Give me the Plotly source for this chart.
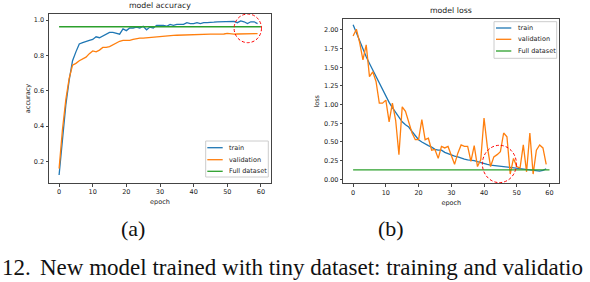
import plotly.graph_objects as go

W, H = 590, 282

epochs = list(range(60))
acc_train = [0.124, 0.33, 0.52, 0.66, 0.77, 0.82, 0.865, 0.872, 0.88, 0.885,
             0.89, 0.905, 0.90, 0.91, 0.92, 0.93, 0.93, 0.925, 0.92, 0.95,
             0.94, 0.955, 0.955, 0.96, 0.955, 0.965, 0.945, 0.96, 0.955, 0.97,
             0.97, 0.97, 0.965, 0.975, 0.97, 0.975, 0.975, 0.975, 0.985, 0.98,
             0.98, 0.985, 0.98, 0.985, 0.985, 0.985, 0.988, 0.99, 0.99, 0.988,
             0.99, 0.99, 0.992, 0.985, 0.995, 0.99, 0.98, 0.99, 0.99, 0.98]
acc_val = [0.16, 0.38, 0.55, 0.67, 0.745, 0.755, 0.77, 0.78, 0.79, 0.81,
           0.825, 0.82, 0.83, 0.845, 0.845, 0.85, 0.86, 0.87, 0.88, 0.885,
           0.885, 0.885, 0.89, 0.895, 0.898, 0.898, 0.90, 0.90, 0.902, 0.903,
           0.905, 0.907, 0.91, 0.912, 0.913, 0.914, 0.915, 0.916, 0.917, 0.917,
           0.918, 0.919, 0.92, 0.92, 0.92, 0.92, 0.92, 0.92, 0.921, 0.921,
           0.925, 0.922, 0.92, 0.921, 0.922, 0.922, 0.922, 0.922, 0.922, 0.923]
loss_train = [2.07, 1.96, 1.85, 1.74, 1.64, 1.55, 1.46, 1.37, 1.28, 1.20,
              1.11, 1.03, 0.96, 0.90, 0.84, 0.77, 0.73, 0.70, 0.64, 0.58,
              0.53, 0.50, 0.47, 0.45, 0.43, 0.40, 0.39, 0.39, 0.36, 0.34,
              0.32, 0.31, 0.30, 0.28, 0.27, 0.26, 0.255, 0.25, 0.235, 0.22,
              0.21, 0.20, 0.19, 0.185, 0.18, 0.175, 0.17, 0.16, 0.155, 0.15,
              0.145, 0.14, 0.135, 0.13, 0.125, 0.12, 0.115, 0.11, 0.12, 0.14]
loss_val = [1.92, 2.01, 1.83, 1.60, 1.80, 1.375, 1.44, 1.31, 1.02, 1.02,
            1.06, 0.77, 1.02, 0.79, 0.33, 0.97, 0.91, 0.75, 0.62, 0.53,
            0.53, 0.80, 0.53, 0.55, 0.39, 0.40, 0.28, 0.44, 0.42, 0.44,
            0.31, 0.20, 0.35, 0.46, 0.44, 0.44, 0.24, 0.45, 0.17, 0.26,
            0.82, 0.44, 0.17, 0.30, 0.33, 0.37, 0.62, 0.57, 0.07, 0.28,
            0.17, 0.15, 0.46, 0.10, 0.62, 0.07, 0.39, 0.46, 0.42, 0.20]
full_x = [0, 60]
full_acc = [0.962, 0.962]
full_loss = [0.125, 0.125]

series_names = ["train", "validation", "Full dataset"]
colors = ["#1f77b4", "#ff7f0e", "#2ca02c"]

x_ticks = [0, 10, 20, 30, 40, 50, 60]
acc_ticks = [0.2, 0.4, 0.6, 0.8, 1.0]
acc_ticklabels = ["0.2", "0.4", "0.6", "0.8", "1.0"]
loss_ticks = [0.0, 0.25, 0.5, 0.75, 1.0, 1.25, 1.5, 1.75, 2.0]
loss_ticklabels = ["0.00", "0.25", "0.50", "0.75", "1.00", "1.25", "1.50", "1.75", "2.00"]

caption_num = "12."
caption_text = "New model trained with tiny dataset: training and validatio"


def PX(p):
    return p / W


def PY(p):
    return 1 - p / H


FONT = "DejaVu Sans"
TXT = "#222222"
fig = go.Figure()

for xs, ys, c, ax in [
    (epochs, acc_train, colors[0], 1), (epochs, acc_val, colors[1], 1), (full_x, full_acc, colors[2], 1),
    (epochs, loss_train, colors[0], 2), (epochs, loss_val, colors[1], 2), (full_x, full_loss, colors[2], 2),
]:
    fig.add_trace(go.Scatter(x=xs, y=ys, mode="lines", line=dict(color=c, width=1.3),
                             xaxis="x" if ax == 1 else "x2", yaxis="y" if ax == 1 else "y2",
                             showlegend=False, hoverinfo="skip"))

axis_common = dict(showgrid=False, zeroline=False, showline=True, linecolor="#444", linewidth=1,
                   mirror=True, ticks="outside", ticklen=2.5, tickwidth=0.8, tickcolor="#444",
                   tickfont=dict(family=FONT, size=6.5, color=TXT))

fig.update_layout(
    width=W, height=H, margin=dict(l=0, r=0, t=0, b=0),
    paper_bgcolor="white", plot_bgcolor="white", showlegend=False,
    xaxis=dict(domain=[PX(49), PX(271)], range=[-3, 63], anchor="y", tickvals=x_ticks,
               title=dict(text="epoch", font=dict(family=FONT, size=6.5, color=TXT), standoff=4),
               **axis_common),
    yaxis=dict(domain=[PY(183), PY(14)], range=[0.079, 1.034], anchor="x", tickvals=acc_ticks,
               ticktext=acc_ticklabels,
               title=dict(text="accuracy", font=dict(family=FONT, size=6.5, color=TXT), standoff=2),
               **axis_common),
    xaxis2=dict(domain=[PX(343.3), PX(559.3)], range=[-3, 63], anchor="y2", tickvals=x_ticks,
                title=dict(text="epoch", font=dict(family=FONT, size=6.5, color=TXT), standoff=4),
                **axis_common),
    yaxis2=dict(domain=[PY(183.3), PY(19.3)], range=[-0.054, 2.143], anchor="x2", tickvals=loss_ticks,
                ticktext=loss_ticklabels,
                title=dict(text="loss", font=dict(family=FONT, size=6.5, color=TXT), standoff=3),
                **axis_common),
)

annotations = []
shapes = []

# subplot titles
annotations.append(dict(text="model accuracy", x=PX(160), y=PY(5.5), xref="paper", yref="paper",
                        showarrow=False, font=dict(family=FONT, size=7.8, color=TXT),
                        xanchor="center", yanchor="middle"))
annotations.append(dict(text="model loss", x=PX(451), y=PY(10), xref="paper", yref="paper",
                        showarrow=False, font=dict(family=FONT, size=7.8, color=TXT),
                        xanchor="center", yanchor="middle"))

# custom legends (box, line swatches, labels)
for box, line_x, text_x, rows in [
    ((205.7, 141, 268.3, 177), (207.3, 222.7), 226.7, (147.7, 159.7, 171.3)),
    ((494, 21.7, 556.7, 58.3), (496, 511.3), 515.7, (28, 39.3, 51)),
]:
    shapes.append(dict(type="rect", xref="paper", yref="paper",
                       x0=PX(box[0]), x1=PX(box[2]), y0=PY(box[3]), y1=PY(box[1]),
                       line=dict(color="#cccccc", width=1), fillcolor="rgba(255,255,255,0.85)"))
    for name, c, ry in zip(series_names, colors, rows):
        shapes.append(dict(type="line", xref="paper", yref="paper",
                           x0=PX(line_x[0]), x1=PX(line_x[1]), y0=PY(ry), y1=PY(ry),
                           line=dict(color=c, width=1.3)))
        annotations.append(dict(text=name, x=PX(text_x), y=PY(ry), xref="paper", yref="paper",
                                showarrow=False, xanchor="left", yanchor="middle",
                                font=dict(family=FONT, size=6.5, color=TXT)))

# red dashed circles highlighting regions
circles = [("x", "y", 56.1, 0.953, 4.07, 0.081), ("x2", "y2", 44.7, 0.205, 5.2, 0.25)]
for xr, yr, cx, cy, rx, ry in circles:
    shapes.append(dict(type="circle", xref=xr, yref=yr, x0=cx - rx, x1=cx + rx, y0=cy - ry, y1=cy + ry,
                       line=dict(color="red", width=1, dash="3px,2px")))

# (a) / (b) labels and caption
SERIF = "Liberation Serif"
for lab, cx in [("(a)", 132.5), ("(b)", 391)]:
    annotations.append(dict(text=lab, x=PX(cx), y=PY(228.5), xref="paper", yref="paper",
                            showarrow=False, font=dict(family=SERIF, size=22, color="#111"),
                            xanchor="center", yanchor="middle"))
annotations.append(dict(text=caption_num, x=PX(0), y=0, xref="paper", yref="paper",
                        showarrow=False, font=dict(family=SERIF, size=23, color="#111"),
                        xanchor="left", yanchor="bottom"))
annotations.append(dict(text=caption_text, x=PX(38), y=0, xref="paper", yref="paper",
                        showarrow=False, font=dict(family=SERIF, size=23, color="#111"),
                        xanchor="left", yanchor="bottom"))

fig.update_layout(annotations=annotations, shapes=shapes)
fig.write_html("out.html", config={"displayModeBar": False},
               post_script="document.body.style.margin='0px';document.body.style.overflow='hidden';")
